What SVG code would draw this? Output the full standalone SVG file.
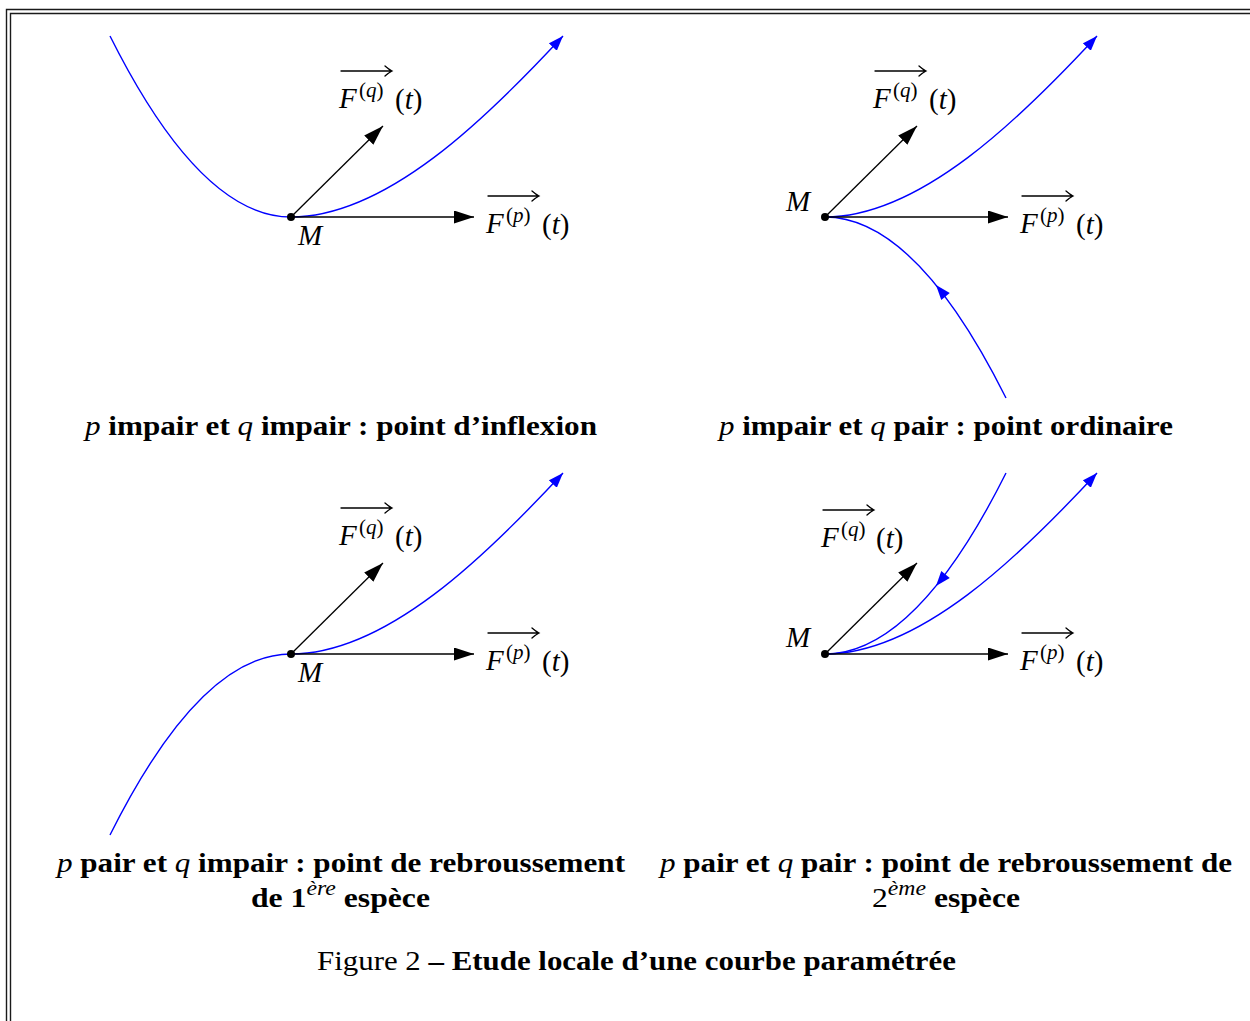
<svg xmlns="http://www.w3.org/2000/svg" xmlns:xlink="http://www.w3.org/1999/xlink" width="1250" height="1021" viewBox="0 0 1250 1021">
<style>
.frame{fill:none;stroke:#1a1a1a;stroke-width:1.4}
.curve{fill:none;stroke:#0000ff;stroke-width:1.4}
.vec{fill:none;stroke:#000;stroke-width:1.3}
.ov{fill:none;stroke:#000;stroke-width:1.3;stroke-linecap:round}
.math{font-family:"Liberation Serif",serif;font-size:29px;fill:#000}
.sup{font-size:21px}
.it{font-style:italic;font-weight:normal}
.lbl{font-family:"Liberation Serif",serif;font-size:28px;font-weight:bold;fill:#000}
.reg{font-weight:normal}
</style>
<defs>
<marker id="ab" viewBox="0 0 15 11" refX="15" refY="5.5" markerWidth="15" markerHeight="11" markerUnits="userSpaceOnUse" orient="auto"><path d="M0,0 L15,5.5 L0,11 z" fill="#0000ff"/></marker>
<marker id="ak" viewBox="0 0 20 13" refX="20" refY="6.5" markerWidth="20" markerHeight="13" markerUnits="userSpaceOnUse" orient="auto"><path d="M0,0 L20,6.5 L0,13 z" fill="#000"/></marker>
<path id="bh" d="M0,0 L-15,-5.5 L-15,5.5 z" fill="#0000ff"/>
<path id="oa" d="M0,0 H51 M44,-5 Q48,-1.5 51,0 Q48,1.5 44,5"/>
</defs>

<g id="frame">
<path class="frame" d="M6.5,1030 V9.5 H1260"/>
<path class="frame" d="M10.5,1030 V13.5 H1260"/>
</g>

<g id="connectors">
<!-- panel 1 -->
<path class="curve" d="M110,36 Q200.5,217 291,217"/>
<path class="curve" d="M291,217 C386,217 486,119 563,36" marker-end="url(#ab)"/>
<path class="vec" d="M291,217 H474" marker-end="url(#ak)"/>
<path class="vec" d="M291,217 L383,126" marker-end="url(#ak)"/>
<!-- panel 2 -->
<path class="curve" d="M825,217 C920,217 1020,119 1097,36" marker-end="url(#ab)"/>
<path class="curve" d="M825,217 Q915.5,217 1006,398"/>
<use xlink:href="#bh" href="#bh" transform="translate(936,285) rotate(230.6)"/>
<path class="vec" d="M825,217 H1008" marker-end="url(#ak)"/>
<path class="vec" d="M825,217 L917,126" marker-end="url(#ak)"/>
<!-- panel 3 -->
<path class="curve" d="M110,835 Q200.5,654 291,654"/>
<path class="curve" d="M291,654 C386,654 486,556 563,473" marker-end="url(#ab)"/>
<path class="vec" d="M291,654 H474" marker-end="url(#ak)"/>
<path class="vec" d="M291,654 L383,563" marker-end="url(#ak)"/>
<!-- panel 4 -->
<path class="curve" d="M825,654 C920,654 1020,556 1097,473" marker-end="url(#ab)"/>
<path class="curve" d="M825,654 Q915.5,654 1006,473"/>
<use xlink:href="#bh" href="#bh" transform="translate(936,586) rotate(129.4)"/>
<path class="vec" d="M825,654 H1008" marker-end="url(#ak)"/>
<path class="vec" d="M825,654 L917,563" marker-end="url(#ak)"/>
</g>

<g id="panel1">
<circle cx="291" cy="217" r="4" fill="#000"/>
<text class="math it" x="298" y="245">M</text>
<use class="ov" xlink:href="#oa" href="#oa" transform="translate(341,71)"/>
<text class="math it" x="339" y="108">F</text>
<text class="math sup" x="359" y="97">(<tspan class="it">q</tspan>)</text>
<text class="math" x="395" y="109">(<tspan class="it">t</tspan>)</text>
<use class="ov" xlink:href="#oa" href="#oa" transform="translate(488,196)"/>
<text class="math it" x="486" y="233">F</text>
<text class="math sup" x="506" y="222">(<tspan class="it">p</tspan>)</text>
<text class="math" x="542" y="234">(<tspan class="it">t</tspan>)</text>
<text class="lbl" x="85" y="435" textLength="512" lengthAdjust="spacingAndGlyphs"><tspan class="it">p</tspan> impair et <tspan class="it">q</tspan> impair : point d’inflexion</text>
</g>

<g id="panel2">
<circle cx="825" cy="217" r="4" fill="#000"/>
<text class="math it" x="786" y="211">M</text>
<use class="ov" xlink:href="#oa" href="#oa" transform="translate(875,71)"/>
<text class="math it" x="873" y="108">F</text>
<text class="math sup" x="893" y="97">(<tspan class="it">q</tspan>)</text>
<text class="math" x="929" y="109">(<tspan class="it">t</tspan>)</text>
<use class="ov" xlink:href="#oa" href="#oa" transform="translate(1022,196)"/>
<text class="math it" x="1020" y="233">F</text>
<text class="math sup" x="1040" y="222">(<tspan class="it">p</tspan>)</text>
<text class="math" x="1076" y="234">(<tspan class="it">t</tspan>)</text>
<text class="lbl" x="719" y="435" textLength="454" lengthAdjust="spacingAndGlyphs"><tspan class="it">p</tspan> impair et <tspan class="it">q</tspan> pair : point ordinaire</text>
</g>

<g id="panel3">
<circle cx="291" cy="654" r="4" fill="#000"/>
<text class="math it" x="298" y="682">M</text>
<use class="ov" xlink:href="#oa" href="#oa" transform="translate(341,508)"/>
<text class="math it" x="339" y="545">F</text>
<text class="math sup" x="359" y="534">(<tspan class="it">q</tspan>)</text>
<text class="math" x="395" y="546">(<tspan class="it">t</tspan>)</text>
<use class="ov" xlink:href="#oa" href="#oa" transform="translate(488,633)"/>
<text class="math it" x="486" y="670">F</text>
<text class="math sup" x="506" y="659">(<tspan class="it">p</tspan>)</text>
<text class="math" x="542" y="671">(<tspan class="it">t</tspan>)</text>
<text class="lbl" x="57" y="872" textLength="568" lengthAdjust="spacingAndGlyphs"><tspan class="it">p</tspan> pair et <tspan class="it">q</tspan> impair : point de rebroussement</text>
<text class="lbl" x="251" y="907" textLength="179" lengthAdjust="spacingAndGlyphs">de 1<tspan class="it sup" dy="-12">ère</tspan><tspan dy="12"> espèce</tspan></text>
</g>

<g id="panel4">
<circle cx="825" cy="654" r="4" fill="#000"/>
<text class="math it" x="786" y="647">M</text>
<use class="ov" xlink:href="#oa" href="#oa" transform="translate(823,510)"/>
<text class="math it" x="821" y="547">F</text>
<text class="math sup" x="841" y="536">(<tspan class="it">q</tspan>)</text>
<text class="math" x="876" y="548">(<tspan class="it">t</tspan>)</text>
<use class="ov" xlink:href="#oa" href="#oa" transform="translate(1022,633)"/>
<text class="math it" x="1020" y="670">F</text>
<text class="math sup" x="1040" y="659">(<tspan class="it">p</tspan>)</text>
<text class="math" x="1076" y="671">(<tspan class="it">t</tspan>)</text>
<text class="lbl" x="660" y="872" textLength="572" lengthAdjust="spacingAndGlyphs"><tspan class="it">p</tspan> pair et <tspan class="it">q</tspan> pair : point de rebroussement de</text>
<text class="lbl" x="872" y="907" textLength="148" lengthAdjust="spacingAndGlyphs"><tspan class="reg">2</tspan><tspan class="it sup" dy="-12">ème</tspan><tspan dy="12"> espèce</tspan></text>
</g>

<g id="caption">
<text class="lbl" x="317" y="970" textLength="639" lengthAdjust="spacingAndGlyphs"><tspan class="reg">Figure 2</tspan> – Etude locale d’une courbe paramétrée</text>
</g>
</svg>
